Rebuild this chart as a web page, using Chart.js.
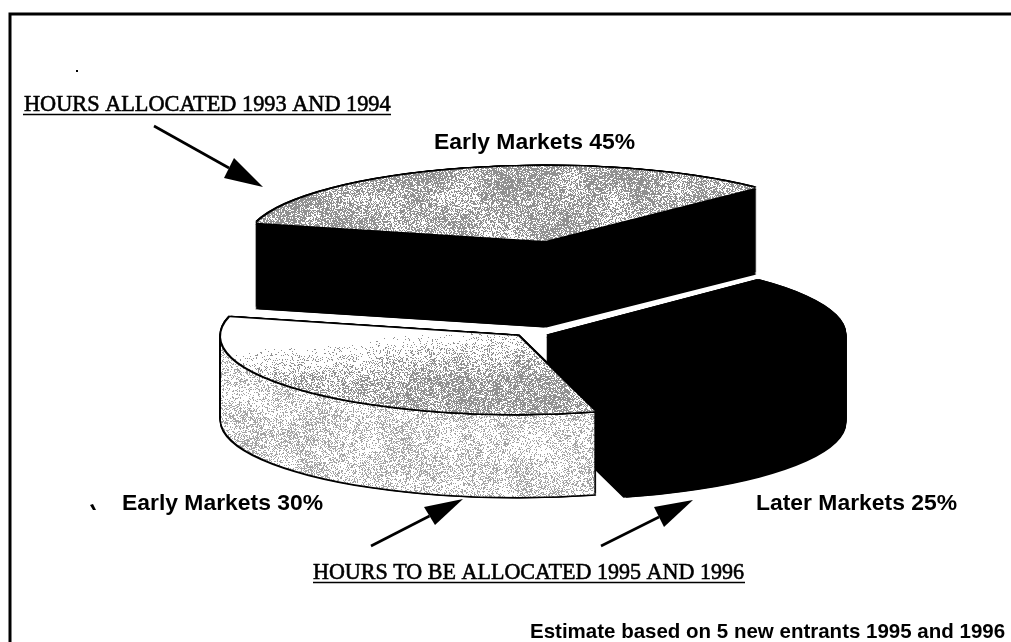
<!DOCTYPE html>
<html>
<head>
<meta charset="utf-8">
<style>
  html, body { margin: 0; background: #fff; }
  canvas { display: block; }
</style>
<script src="https://cdn.jsdelivr.net/npm/chart.js@4"></script>
</head>
<body>
<canvas id="grafico" width="1011" height="642"></canvas>
<script>
// order is the paint order: top slice, right slice, then left slice in front
const categories = ["Early Markets", "Later Markets", "Early Markets"];
const printedPercent = [45, 25, 30];
// the reference prints 45/25/30 but draws three nearly equal wedges, so these
// are the wedge sizes measured on the picture, in degrees
const drawnDegrees = [121, 120, 119];
const captions = ["HOURS ALLOCATED 1993 AND 1994", "HOURS TO BE ALLOCATED 1995 AND 1996"];
const footnote = "Estimate based on 5 new entrants 1995 and 1996";

const W = 1011, H = 642;
const radiusX = 297;
const radiiY = [75, 78, 78];
const depths = [85, 85, 83];
const sliceCenters = [[545, 241], [548, 336], [518, 336]];
const labelSpots = [[434, 149], [756, 510], [122, 510]];

function hash(x, y) {
    const s = Math.sin(x * 12.9898 + y * 78.233) * 43758.5453;
    return s - Math.floor(s);
}
function blotch(x, y, size) {
    const fx = x / size, fy = y / size;
    const ix = Math.floor(fx), iy = Math.floor(fy);
    const tx = fx - ix, ty = fy - iy;
    const a = hash(ix, iy) * (1 - tx) + hash(ix + 1, iy) * tx;
    const b = hash(ix, iy + 1) * (1 - tx) + hash(ix + 1, iy + 1) * tx;
    return a * (1 - ty) + b * ty;
}
function stipple(darkness, ink) {
    const c = document.createElement("canvas");
    c.width = W; c.height = H;
    const g = c.getContext("2d");
    const img = g.createImageData(W, H);
    for (let y = 0; y < H; y++) {
        for (let x = 0; x < W; x++) {
            const v = hash(x, y) < darkness(x, y) ? ink : 255;
            const i = (y * W + x) * 4;
            img.data[i] = img.data[i + 1] = img.data[i + 2] = v;
            img.data[i + 3] = 255;
        }
    }
    g.putImageData(img, 0, 0);
    return g.createPattern(c, "no-repeat");
}
const clamp01 = v => Math.max(0, Math.min(1, v));

const topFill = stipple((x, y) => 0.3 + 0.55 * blotch(x, y, 22), 145);
const leftFill = stipple((x, y) => clamp01((y - 345 + (x - 300) * 0.1) / 55) * (0.35 + 0.45 * blotch(x, y, 20)), 145);
const leftSide = stipple((x, y) => 0.15 + 0.4 * blotch(x, y, 18), 165);

const faceFills = [topFill, "#000", leftFill];
const sideFills = ["#000", "#000", leftSide];

const pie3d = {
    id: "pie3d",
    beforeDatasetDraw(chart, args) {
        const ctx = chart.ctx;
        args.meta.data.forEach((arc, i) => {
            const [cx, cy] = sliceCenters[i];
            const sx = radiusX / arc.outerRadius, sy = radiiY[i] / arc.outerRadius;
            const original = arc.options;
            const layer = (ox, oy, fill) => {
                ctx.save();
                ctx.translate(cx + ox, cy + oy);
                ctx.scale(sx, sy);
                ctx.translate(-arc.x, -arc.y);
                if (fill instanceof CanvasPattern) fill.setTransform(ctx.getTransform().inverse());
                arc.options = { backgroundColor: fill, borderColor: fill, borderWidth: 0, borderRadius: 0, offset: 0, spacing: 0, circular: true };
                arc.draw(ctx);
                ctx.restore();
            };
            const w = 1.5;
            for (let d = 0; d <= depths[i]; d++) {
                layer(-w, d - w, "#000"); layer(w, d - w, "#000");
                layer(-w, d + w, "#000"); layer(w, d + w, "#000");
            }
            for (let d = 1; d <= depths[i]; d++) layer(0, d, sideFills[i]);
            [[-w, 0], [w, 0], [0, -w], [0, w], [-w, -w], [w, -w], [-w, w], [w, w]].forEach(o => layer(o[0], o[1], "#000"));
            layer(0, 0, faceFills[i]);
            arc.options = original;
        });
        return false;
    },
    afterDraw(chart) {
        const ctx = chart.ctx;
        ctx.save();
        ctx.strokeStyle = ctx.fillStyle = "#000";
        // frame, only top and left survive in the scan
        ctx.lineWidth = 3;
        ctx.beginPath();
        ctx.moveTo(W, 14); ctx.lineTo(10, 14); ctx.lineTo(10, H);
        ctx.stroke();

        arrow(ctx, 154, 126, 263, 187, 234, 158, 224, 178);
        arrow(ctx, 371, 546, 463, 499, 424, 507, 435, 525);
        arrow(ctx, 601, 546, 693, 500, 654, 507, 664, 527);

        // stray scan specks
        ctx.fillRect(76, 70, 2, 2);
        ctx.beginPath();
        ctx.moveTo(90, 505); ctx.lineTo(93, 504); ctx.lineTo(96, 510); ctx.lineTo(93, 510);
        ctx.fill();

        ctx.textBaseline = "alphabetic";
        ctx.font = "bold 22.9px 'Liberation Sans'";
        categories.forEach((name, i) => {
            ctx.fillText(name + " " + printedPercent[i] + "%", labelSpots[i][0], labelSpots[i][1]);
        });
        ctx.font = "bold 20.5px 'Liberation Sans'";
        ctx.fillText(footnote, 530, 638);

        ctx.font = "22.3px 'Liberation Serif'";
        ctx.lineWidth = 0.6;
        ctx.fillText(captions[0], 24, 111, 367);
        ctx.strokeText(captions[0], 24, 111, 367);
        ctx.fillText(captions[1], 313, 579, 431);
        ctx.strokeText(captions[1], 313, 579, 431);
        ctx.lineWidth = 1.5;
        ctx.beginPath();
        ctx.moveTo(23, 114.5); ctx.lineTo(391, 114.5);
        ctx.moveTo(313, 582.5); ctx.lineTo(745, 582.5);
        ctx.stroke();
        ctx.restore();
    }
};

function arrow(ctx, x0, y0, x1, y1, ax, ay, bx, by) {
    ctx.lineWidth = 2.6;
    ctx.beginPath();
    ctx.moveTo(x0, y0);
    ctx.lineTo((ax + bx) / 2, (ay + by) / 2);
    ctx.stroke();
    ctx.beginPath();
    ctx.moveTo(x1, y1); ctx.lineTo(ax, ay); ctx.lineTo(bx, by);
    ctx.closePath();
    ctx.fill();
}

new Chart(document.getElementById("grafico").getContext("2d"), {
    type: "pie",
    data: {
        labels: categories,
        datasets: [{
            data: drawnDegrees,
            backgroundColor: faceFills,
            borderWidth: 0
        }]
    },
    options: {
        responsive: false,
        animation: false,
        rotation: 284,
        plugins: { legend: { display: false }, tooltip: { enabled: false } }
    },
    plugins: [pie3d]
});
</script>
</body>
</html>
